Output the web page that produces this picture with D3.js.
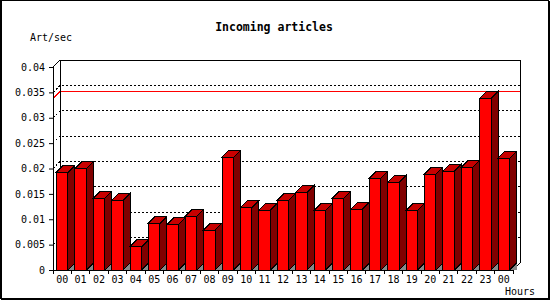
<!DOCTYPE html>
<html>
<head>
<meta charset="utf-8">
<script src="https://cdn.jsdelivr.net/npm/d3@7"></script>
<style>
  body { margin: 0; background: #fff; }
  text { font-family: "DejaVu Sans Mono", monospace; fill: #000; }
</style>
</head>
<body>
<script>
// Hours of the day (last one wraps to the next midnight)
var hours = ['00', '01', '02', '03', '04', '05', '06', '07', '08', '09', '10', '11',
    '12', '13', '14', '15', '16', '17', '18', '19', '20', '21', '22', '23', '00'];

// Incoming articles per second, per hour
var rates = [0.01925, 0.01996, 0.01413, 0.01373, 0.00459, 0.0092, 0.00893, 0.01058,
    0.00788, 0.02221, 0.01235, 0.01176, 0.01373, 0.01531, 0.01176, 0.01413,
    0.01196, 0.01807, 0.01728, 0.01176, 0.01886, 0.01945, 0.02024, 0.03383, 0.02201];

var yTicks = [0, 0.005, 0.01, 0.015, 0.02, 0.025, 0.03, 0.035, 0.04];

var width = 550,
    height = 300,
    depth = 7;

var svg = d3.select('body').append('svg')
    .attr('width', width)
    .attr('height', height);

var x = d3.scaleBand()
    .domain(d3.range(hours.length))
    .range([53, 513])
    .paddingInner(0.37)
    .paddingOuter(0.185);

var y = d3.scaleLinear()
    .domain([0, 0.04])
    .range([270, 67]);

var g = svg.append('g').attr('shape-rendering', 'crispEdges');

var pLeft = x.range()[0],
    pRight = x.range()[1],
    pBottom = y(0),
    pTop = y(0.04);

// ****************** back plane + grid ***************************
yTicks.slice(1, -1).forEach(function (t) {
    g.append('path')
        .attr('d', 'M' + pLeft + ',' + y(t) + 'L' + (pLeft + depth) + ',' + (y(t) - depth) +
            'H' + (pRight + depth))
        .attr('fill', 'none')
        .attr('stroke', '#000')
        .attr('stroke-dasharray', '2,2');
});

// line at the peak value
var peak = d3.max(rates);
g.append('path')
    .attr('d', 'M' + pLeft + ',' + y(peak) + 'L' + (pLeft + depth) + ',' + (y(peak) - depth) +
        'H' + (pRight + depth))
    .attr('fill', 'none')
    .attr('stroke', '#f00');

g.append('path')
    .attr('d', 'M' + pLeft + ',' + pTop + 'L' + (pLeft + depth) + ',' + (pTop - depth) +
        'H' + (pRight + depth) + 'V' + (pBottom - depth) + 'L' + pRight + ',' + pBottom)
    .attr('fill', 'none')
    .attr('stroke', '#000');
g.append('line')
    .attr('x1', pLeft + depth).attr('x2', pLeft + depth)
    .attr('y1', pTop - depth).attr('y2', pBottom - depth)
    .attr('stroke', '#000');

// ****************** bars ***************************
var bw = x.bandwidth();
rates.forEach(function (v, i) {
    var x0 = x(i),
        x1 = x0 + bw,
        yt = y(v);

    g.append('polygon')
        .attr('points', [[x1, pBottom], [x1 + depth, pBottom - depth], [x1 + depth, pBottom]].join(' '))
        .attr('fill', '#888');

    g.append('polygon')
        .attr('points', [[x1, yt], [x1 + depth, yt - depth], [x1 + depth, pBottom - depth], [x1, pBottom]].join(' '))
        .attr('fill', '#800000')
        .attr('stroke', '#000');

    g.append('polygon')
        .attr('points', [[x0, yt], [x0 + depth, yt - depth], [x1 + depth, yt - depth], [x1, yt]].join(' '))
        .attr('fill', '#c80000')
        .attr('stroke', '#000');

    g.append('rect')
        .attr('x', x0)
        .attr('y', yt)
        .attr('width', bw)
        .attr('height', pBottom - yt)
        .attr('fill', '#f00')
        .attr('stroke', '#000');
});

// ****************** axes ***************************
var yAxis = d3.axisLeft(y)
    .tickValues(yTicks)
    .tickSize(4)
    .tickPadding(4)
    .tickFormat(function (d) { return d === 0 ? '0' : String(+d.toFixed(3)); });

svg.append('g')
    .attr('transform', 'translate(' + pLeft + ',0)')
    .call(yAxis)
    .call(function (a) {
        a.select('.domain').remove();
        a.selectAll('text').style('font-size', '10px').attr('font-family', null);
    });

g.append('line')
    .attr('x1', pLeft).attr('x2', pLeft)
    .attr('y1', pTop).attr('y2', pBottom)
    .attr('stroke', '#000');

var xAxis = d3.axisBottom(x)
    .tickSize(0)
    .tickPadding(6)
    .tickFormat(function (i) { return hours[i]; });

svg.append('g')
    .attr('transform', 'translate(0,' + pBottom + ')')
    .call(xAxis)
    .call(function (a) {
        a.select('.domain').remove();
        a.selectAll('text').style('font-size', '10px').attr('font-family', null);
    });

// slot boundary ticks
g.selectAll('line.xtick')
    .data(d3.range(hours.length + 1))
    .enter().append('line')
    .attr('class', 'xtick')
    .attr('x1', function (i) { return pLeft + i * x.step(); })
    .attr('x2', function (i) { return pLeft + i * x.step(); })
    .attr('y1', pBottom)
    .attr('y2', pBottom + 4)
    .attr('stroke', '#000');

g.append('line')
    .attr('x1', pLeft).attr('x2', pRight)
    .attr('y1', pBottom).attr('y2', pBottom)
    .attr('stroke', '#000');

// ****************** titles ***************************
svg.append('text')
    .attr('x', 274)
    .attr('y', 31)
    .attr('text-anchor', 'middle')
    .style('font-size', '11.5px')
    .style('font-weight', 'bold')
    .text('Incoming articles');

svg.append('text')
    .attr('x', 30)
    .attr('y', 41)
    .style('font-size', '10px')
    .text('Art/sec');

svg.append('text')
    .attr('x', 505)
    .attr('y', 295)
    .style('font-size', '10px')
    .text('Hours');

// frame
svg.append('path')
    .attr('d', 'M0.5,0.5H548.5V298.5H0.5Z')
    .attr('fill', 'none')
    .attr('stroke', '#000')
    .attr('shape-rendering', 'crispEdges');
svg.append('path')
    .attr('d', 'M549.5,1V300M1,299.5H550M1.5,1V299')
    .attr('fill', 'none')
    .attr('stroke', '#000')
    .attr('shape-rendering', 'crispEdges');
</script>
</body>
</html>
